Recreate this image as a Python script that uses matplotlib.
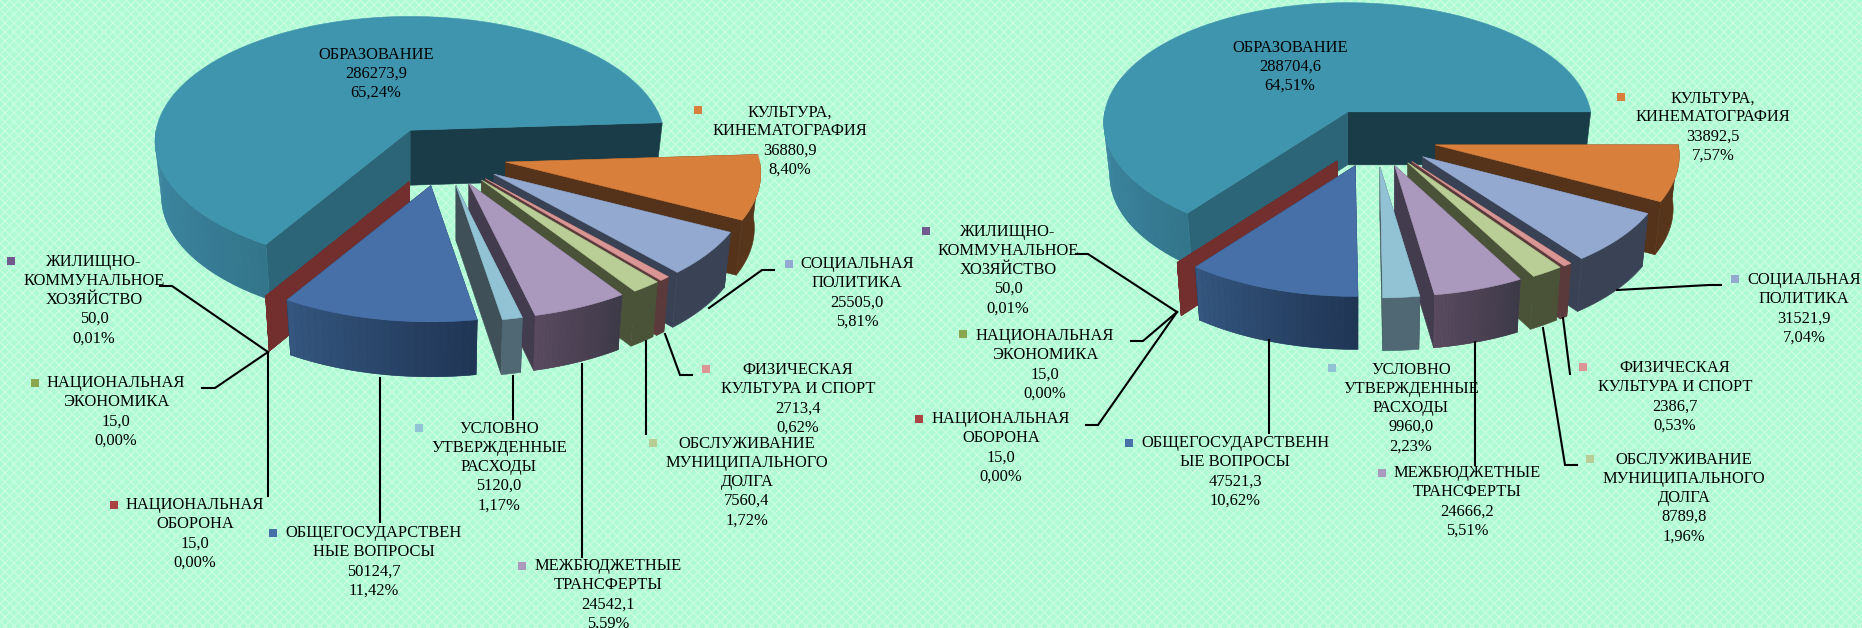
import numpy as np
import matplotlib
matplotlib.use('Agg')
import matplotlib.pyplot as plt
from matplotlib.patches import Polygon, Rectangle

plt.rcParams['font.family'] = ['Liberation Serif', 'DejaVu Serif']

# Data, clockwise from the big slice
names_left = ['ОБРАЗОВАНИЕ', 'КУЛЬТУРА,\nКИНЕМАТОГРАФИЯ', 'СОЦИАЛЬНАЯ\nПОЛИТИКА', 'ФИЗИЧЕСКАЯ\nКУЛЬТУРА И СПОРТ',
              'ОБСЛУЖИВАНИЕ\nМУНИЦИПАЛЬНОГО\nДОЛГА', 'МЕЖБЮДЖЕТНЫЕ\nТРАНСФЕРТЫ', 'УСЛОВНО\nУТВЕРЖДЕННЫЕ\nРАСХОДЫ',
              'ОБЩЕГОСУДАРСТВЕН\nНЫЕ ВОПРОСЫ', 'НАЦИОНАЛЬНАЯ\nОБОРОНА', 'НАЦИОНАЛЬНАЯ\nЭКОНОМИКА',
              'ЖИЛИЩНО-\nКОММУНАЛЬНОЕ\nХОЗЯЙСТВО']
names_right = list(names_left)
names_right[7] = 'ОБЩЕГОСУДАРСТВЕНН\nЫЕ ВОПРОСЫ'

values_left = [286273.9, 36880.9, 25505.0, 2713.4, 7560.4, 24542.1, 5120.0, 50124.7, 15.0, 15.0, 50.0]
pct_left = [65.24, 8.40, 5.81, 0.62, 1.72, 5.59, 1.17, 11.42, 0.00, 0.00, 0.01]
values_right = [288704.6, 33892.5, 31521.9, 2386.7, 8789.8, 24666.2, 9960.0, 47521.3, 15.0, 15.0, 50.0]
pct_right = [64.51, 7.57, 7.04, 0.53, 1.96, 5.51, 2.23, 10.62, 0.00, 0.00, 0.01]

top_colors = ['#4095ae', '#d87f3b', '#93a9cf', '#d99694', '#b9cd96', '#aa99bc', '#92c3d5', '#4770a8',
              '#a94442', '#8aa64f', '#71588f']
wall_colors = ['#1a3c49', '#55331a', '#394254', '#5a3a3a', '#4a5338', '#433c4f', '#3f5058', '#203655',
               '#722f2e', '#722f2e', '#722f2e']
rim_left_colors = ['#3f8ba6', '#57351a', '#3a4256', '#5a3a3a', '#4a5338', '#5a4a60', '#4f6873', '#34567f',
                   '#722f2e', '#722f2e', '#722f2e']
rim_right_colors = ['#33768c', '#57351a', '#3a4256', '#5a3a3a', '#4a5338', '#3d3a48', '#4f6873', '#203655',
                    '#722f2e', '#722f2e', '#722f2e']

# Label layout in pixels: text centre, then legend key
text_left = [(376, 74), (790, 141), (857, 293), (798, 399), (747, 482), (608, 595), (499, 467), (374, 562),
             (195, 534), (116, 412), (94, 300)]
key_left = [(305, 54), (698, 110), (789, 264), (706, 369), (653, 443), (522, 566), (419, 428), (273, 533),
            (114, 505), (35, 383), (11, 261)]
text_right = [(1290, 67), (1713, 127), (1804, 309), (1675, 397), (1684, 498), (1467, 502), (1411, 408), (1235, 472),
              (1001, 448), (1045, 365), (1008, 270)]
key_right = [(1219, 47), (1621, 97), (1735, 279), (1583, 367), (1590, 459), (1382, 473), (1332, 368), (1129, 443),
             (919, 419), (963, 334), (926, 231)]

leaders_left = [[(160, 286), (172, 286), (268, 352)], [(202, 388), (215, 388), (268, 352)], [(268, 352), (268, 496)],
                [(380, 378), (380, 522)], [(513, 376), (513, 419)], [(582, 364), (582, 557)],
                [(646, 341), (646, 434)], [(665, 334), (680, 375), (692, 375)], [(709, 308), (762, 270), (774, 270)]]
leaders_right = [[(1076, 254), (1088, 254), (1177, 312)], [(1131, 341), (1143, 341), (1177, 312)],
                 [(1086, 425), (1098, 425), (1177, 312)], [(1269, 340), (1269, 433)], [(1475, 342), (1475, 465)],
                 [(1543, 328), (1565, 465), (1577, 465)], [(1563, 318), (1570, 374)],
                 [(1617, 290), (1709, 285), (1721, 285)]]

DRAW_ORDER = [0, 1, 2, 3, 4, 5, 10, 9, 8, 7, 6]


def mix(c1, c2, f):
    a, b = np.array(matplotlib.colors.to_rgb(c1)), np.array(matplotlib.colors.to_rgb(c2))
    return a + (b - a) * f


def draw_pie(ax, pct, center, rx, ry, depth, explode, start, persp=0.09, shrink=0.975):
    sweeps = np.array(pct) * 3.6
    ends = start - np.cumsum(sweeps) + sweeps[0]
    starts = ends + sweeps
    # the big slice runs the other way from the start angle
    starts[0], ends[0] = start + sweeps[0], start

    def rim(t, ox, oy, bottom=False):
        # t in degrees, front of the pie is at negative sin
        t = np.radians(t)
        X, Y = np.cos(t), -np.sin(t)
        s = 1 / (1 - persp * Y)
        x = rx * X * s
        y = ry * Y * s
        if bottom:
            return ox + x * shrink, oy + y + depth
        return ox + x, oy + y

    for i in DRAW_ORDER:
        a1, a2 = starts[i], ends[i]
        mid = np.radians((a1 + a2) / 2)
        ox = center[0] + explode * np.cos(mid)
        oy = center[1] - explode * 0.47 * np.sin(mid)

        # cut walls
        for a, col in [(a2, wall_colors[i]), (a1, '#2b6577' if i == 0 else wall_colors[i])]:
            p, q = rim(a, ox, oy), rim(a, ox, oy, True)
            ax.add_patch(Polygon([(ox, oy), p, q, (ox, oy + depth)], fc=col, ec=col, lw=0.4, zorder=2))

        # outer wall, front half only, shaded left to right over a solid base
        lo, hi = (180, a1) if i == 0 else (max(a2, -180), min(a1, 0))
        if hi > lo:
            ts = np.linspace(lo, hi, 26)
            base = mix(rim_left_colors[i], rim_right_colors[i], 0.5)
            outline = [rim(v, ox, oy) for v in ts] + [rim(v, ox, oy, True) for v in ts[::-1]]
            ax.add_patch(Polygon(outline, fc=base, ec=base, lw=0.4, zorder=2))
            if rim_left_colors[i] != rim_right_colors[i]:
                for j in range(25):
                    col = mix(rim_left_colors[i], rim_right_colors[i], j / 24)
                    tt = [ts[j], ts[j + 1]]
                    top = [rim(v, ox, oy) for v in tt]
                    bot = [rim(v, ox, oy, True) for v in tt[::-1]]
                    ax.add_patch(Polygon(top + bot, fc=col, ec='none', lw=0, zorder=2))

        # top face
        if a1 - a2 > 0.05:
            ts = np.linspace(a1, a2, 90)
            pts = [(ox, oy)] + [rim(v, ox, oy) for v in ts]
            ax.add_patch(Polygon(pts, fc=top_colors[i], ec=top_colors[i], lw=0.4, zorder=2))


def draw_labels(ax, names, values, pct, text_xy, key_xy, leaders):
    for line in leaders:
        xs, ys = zip(*line)
        ax.plot(xs, ys, color='black', lw=1.5, zorder=3, solid_joinstyle='miter')
    for i, name in enumerate(names):
        label = name + '\n' + f'{values[i]:.1f}'.replace('.', ',') + '\n' + f'{pct[i]:.2f}'.replace('.', ',') + '%'
        ax.text(text_xy[i][0], text_xy[i][1], label, ha='center', va='center', fontsize=11.9,
                linespacing=1.26, color='black', zorder=4)
        ax.add_patch(Rectangle((key_xy[i][0] - 4, key_xy[i][1] - 4), 8, 8, fc=top_colors[i], ec='none', zorder=4))


fig = plt.figure(figsize=(18.62, 6.28), dpi=100)
ax = fig.add_axes([0, 0, 1, 1])

# mint lattice background
yy, xx = np.mgrid[0:628, 0:1862]
u = np.abs(((xx + yy) % 9) - 4.5) / 4.5
v = np.abs(((xx - yy) % 9) - 4.5) / 4.5
glow = np.clip(np.maximum(u, v) * 1.3 - 0.6, 0, 1) ** 2
base_col = np.array(matplotlib.colors.to_rgb('#adfbd2'))
bg = base_col + (1 - base_col)[None, None, :] * glow[:, :, None] * 0.8
ax.imshow(bg, extent=(0, 1862, 628, 0), interpolation='nearest', zorder=0, aspect='auto')

draw_pie(ax, pct_left, (443, 156), 254, 124, 55, 64, 3.5)
draw_pie(ax, pct_right, (1375, 138), 243, 119, 53, 62, 0)
draw_labels(ax, names_left, values_left, pct_left, text_left, key_left, leaders_left)
draw_labels(ax, names_right, values_right, pct_right, text_right, key_right, leaders_right)

ax.set_xlim(0, 1862)
ax.set_ylim(628, 0)
ax.axis('off')
fig.savefig('out.png', dpi=100)
